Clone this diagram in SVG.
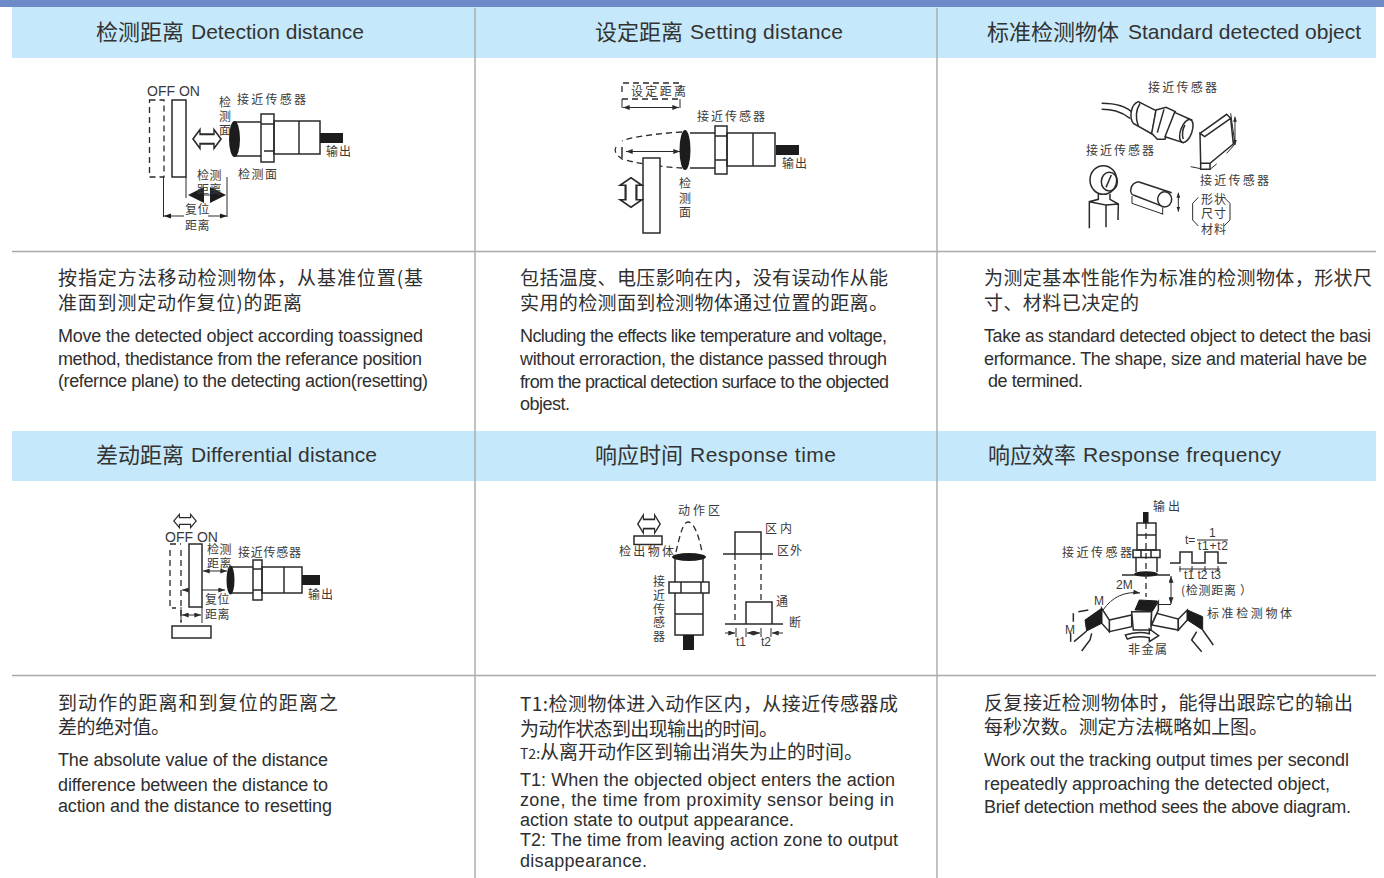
<svg xmlns="http://www.w3.org/2000/svg" width="1384" height="878" viewBox="0 0 1384 878">
<style>
text{font-family:"Liberation Sans","Noto Sans CJK SC",sans-serif;fill:#2f2f2f}
.h{font-size:22px;font-family:"Noto Sans CJK SC",sans-serif;fill:#333}
.he{font-size:21px;fill:#333}
.c{font-size:19px;font-family:"Noto Sans CJK SC",sans-serif}
.e{font-size:18px}
.l{font-size:12px;font-family:"Noto Sans CJK SC",sans-serif;fill:#3a3a3a}
.o{font-size:14px;fill:#3a3a3a}
.n{font-size:12px;fill:#3a3a3a}
.s{fill:none;stroke:#2a2a2a;stroke-width:1.5}
.w{fill:#fff;stroke:#2a2a2a;stroke-width:1.5}
.d{fill:none;stroke:#2a2a2a;stroke-width:1.3;stroke-dasharray:6 4}
.k{fill:#1c1c1c;stroke:none}
.t{fill:none;stroke:#2a2a2a;stroke-width:1}
.sep{stroke:#a9a9a9;stroke-width:1.4;fill:none}
.z{fill:none;stroke:#2a2a2a;stroke-width:4.5}
.z2{fill:none;stroke:#2a2a2a;stroke-width:3}
.zw{fill:#fff;stroke:#2a2a2a;stroke-width:4.5}
.zk{fill:#1c1c1c;stroke:#1c1c1c;stroke-width:3}
</style>
<defs>
<marker id="a" viewBox="0 0 8 6" refX="8" refY="3" markerWidth="7" markerHeight="5" orient="auto-start-reverse"><path d="M0 0L8 3L0 6Z" fill="#2a2a2a"/></marker>
<marker id="b" viewBox="0 0 8 6" refX="8" refY="3" markerWidth="5" markerHeight="4" orient="auto-start-reverse"><path d="M0 0L8 3L0 6Z" fill="#2a2a2a"/></marker>
<path id="dbl" d="M-14 0L-7 -7V-3.500H7V-7L14 0L7 7V3.500H-7V7Z" fill="#fff" stroke="#2a2a2a" stroke-width="1.400"/>
</defs>
<rect width="1384" height="878" fill="#fff"/>
<rect width="1384" height="7" fill="#6e8bc8"/>
<rect x="12" y="7" width="1364" height="51" fill="#c5e9fa"/>
<rect x="12" y="431" width="1364" height="50" fill="#c5e9fa"/>
<g id="grid">
<path class="sep" d="M475 8V878M937 8V878M12 251.500H1376M12 675.500H1376"/>
</g>

<g id="headers">
<text class="h" x="96" y="40">检测距离</text><text class="he" x="191" y="39" textLength="173">Detection distance</text>
<text class="h" x="595" y="40">设定距离</text><text class="he" x="690" y="39" textLength="153">Setting distance</text>
<text class="h" x="987" y="40">标准检测物体</text><text class="he" x="1128" y="39" textLength="233">Standard detected object</text>
<text class="h" x="96" y="463">差动距离</text><text class="he" x="191" y="462" textLength="186">Differential distance</text>
<text class="h" x="595" y="463">响应时间</text><text class="he" x="690" y="462" textLength="146">Response time</text>
<text class="h" x="988" y="463">响应效率</text><text class="he" x="1083" y="462" textLength="198">Response frequency</text>
</g>

<g id="descriptions">
<text class="c" x="58" y="285" textLength="365">按指定方法移动检测物体，从基准位置(基</text>
<text class="c" x="58" y="310" textLength="244">准面到测定动作复位)的距离</text>
<text class="e" x="58" y="342" textLength="365">Move the detected object according toassigned</text>
<text class="e" x="58" y="365" textLength="364">method, thedistance from the referance position</text>
<text class="e" x="58" y="387" textLength="370">(refernce plane) to the detecting action(resetting)</text>

<text class="c" x="520" y="285" textLength="368">包括温度、电压影响在内，没有误动作从能</text>
<text class="c" x="520" y="310" textLength="368">实用的检测面到检测物体通过位置的距离。</text>
<text class="e" x="520" y="342" textLength="367">Ncluding the effects like temperature and voltage,</text>
<text class="e" x="520" y="365" textLength="367">without erroraction, the distance passed through</text>
<text class="e" x="520" y="388" textLength="369">from the practical detection surface to the objected</text>
<text class="e" x="520" y="410" textLength="50">objest.</text>

<text class="c" x="984" y="285" textLength="388">为测定基本性能作为标准的检测物体，形状尺</text>
<text class="c" x="984" y="310" textLength="155">寸、材料已决定的</text>
<text class="e" x="984" y="342" textLength="387">Take as standard detected object to detect the basi</text>
<text class="e" x="984" y="365" textLength="383">erformance. The shape, size and material have be</text>
<text class="e" x="988" y="387" textLength="95">de termined.</text>

<text class="c" x="58" y="710" textLength="280">到动作的距离和到复位的距离之</text>
<text class="c" x="58" y="734" textLength="112">差的绝对值。</text>
<text class="e" x="58" y="766" textLength="270">The absolute value of the distance</text>
<text class="e" x="58" y="791" textLength="270">difference between the distance to</text>
<text class="e" x="58" y="812" textLength="274">action and the distance to resetting</text>

<text class="c" x="520" y="711" textLength="378">T1:检测物体进入动作区内，从接近传感器成</text>
<text class="c" x="520" y="736" textLength="258">为动作状态到出现输出的时间。</text>
<text class="c" x="520" y="759" textLength="343"><tspan font-size="14">T2:</tspan>从离开动作区到输出消失为止的时间。</text>
<text class="e" x="520" y="786" textLength="375">T1: When the objected object enters the action</text>
<text class="e" x="520" y="806" textLength="374">zone, the time from proximity sensor being in</text>
<text class="e" x="520" y="826" textLength="274">action state to output appearance.</text>
<text class="e" x="520" y="846" textLength="378">T2: The time from leaving action zone to output</text>
<text class="e" x="520" y="867" textLength="127">disappearance.</text>

<text class="c" x="984" y="710" textLength="369">反复接近检测物体时，能得出跟踪它的输出</text>
<text class="c" x="984" y="734" textLength="284">每秒次数。测定方法概略如上图。</text>
<text class="e" x="984" y="766" textLength="365">Work out the tracking output times per secondl</text>
<text class="e" x="984" y="790" textLength="346">repeatedly approaching the detected object,</text>
<text class="e" x="984" y="813" textLength="367">Brief detection method sees the above diagram.</text>
</g>

<g id="fig-detection">
<rect class="d" x="149.500" y="100" width="14.500" height="77"/>
<rect class="s" x="172" y="100" width="14" height="77"/>
<use href="#dbl" transform="translate(207,139) scale(1,1.350)"/>
<path class="s" d="M234 122H261M234 156H261"/>
<ellipse class="k" cx="234.500" cy="139" rx="5.500" ry="18"/>
<rect class="s" x="261" y="114" width="13" height="48"/>
<path class="s" d="M261 124H274M264 151H274"/>
<rect class="s" x="274" y="121" width="46" height="33"/>
<path class="s" d="M299 121V154" stroke-width="1.800"/>
<rect class="k" x="320" y="133" width="23" height="10"/>
<path class="t" d="M186 177V198M227 177V217M163.500 177V217"/>
<path class="k" d="M188 195L204 187V203ZM226 195L210 187V203Z"/>
<path class="t" d="M204 195H210M164 216H184M208 216H227"/>
<path class="k" d="M164 216L171 213.500V218.500ZM227 216L220 213.500V218.500Z"/>
<text class="o" x="147" y="96">OFF ON</text>
<text class="l"><tspan x="219" y="107">检</tspan><tspan x="219" y="121">测</tspan><tspan x="219" y="135">面</tspan></text>
<text class="l" x="237" y="104" textLength="69">接近传感器</text>
<text class="l" x="326" y="156" textLength="25">输出</text>
<text class="l" letter-spacing=".5"><tspan x="197" y="180">检测</tspan><tspan x="197" y="194">距离</tspan></text>
<text class="l" x="238" y="179" textLength="39">检测面</text>
<text class="l" letter-spacing=".5"><tspan x="185" y="214">复位</tspan><tspan x="185" y="230">距离</tspan></text>
</g>

<g id="fig-setting">
<path class="d" d="M622 92V83H681V88M622 99H681"/>
<path class="t" d="M622 99V108M680 99V108"/>
<path class="t" d="M623 107.500H679" marker-start="url(#a)" marker-end="url(#a)"/>
<text class="l" x="631" y="96" textLength="55">设定距离</text>
<path class="d" d="M682 132C650 134 628 138 622 141M616 147C613 152 618 156 622 159C635 163 660 167 682 168"/>
<path class="s" d="M622 147V158"/>
<path class="t" d="M626 151.500H680" marker-start="url(#a)" marker-end="url(#a)"/>
<path class="s" d="M690 133H715M690 168H715"/>
<ellipse class="k" cx="685" cy="150" rx="5.500" ry="20"/>
<rect class="s" x="715" y="126" width="12" height="48"/>
<path class="s" d="M715 136H727M715 160H727"/>
<rect class="s" x="727" y="133" width="48" height="33"/>
<path class="s" d="M753 133V166" stroke-width="1.800"/>
<rect class="k" x="776" y="145" width="23" height="10"/>
<rect class="w" x="643" y="158" width="17" height="75"/>
<use href="#dbl" transform="translate(631,192.500) rotate(90) scale(1.050,1.550)"/>
<text class="l" x="697" y="121" textLength="68">接近传感器</text>
<text class="l" x="782" y="168" textLength="25">输出</text>
<text class="l"><tspan x="679" y="188">检</tspan><tspan x="679" y="203">测</tspan><tspan x="679" y="217">面</tspan></text>
</g>

<g id="fig-standard">
<g transform="translate(1070,70) scale(.33333)">
<path class="z" d="M95 100C130 100 165 105 190 130M95 118C125 118 150 122 180 145"/>
<path class="zw" d="M205 95L258 122L246 192L190 160C178 145 180 105 205 95Z"/>
<path class="z" d="M210 100C198 120 196 145 205 168"/>
<path class="zw" d="M258 120L288 112L316 125L285 208L262 208L245 190Z"/>
<path class="z" d="M282 118L262 188"/>
<path class="zw" d="M314 127L365 150L340 218L285 200Z"/>
<ellipse class="zw" cx="349" cy="183" rx="17" ry="36" transform="rotate(20 349 183)"/>
<path class="z" d="M345 165C338 175 335 195 340 207"/>
<path class="zw" d="M390 190L470 133L482 145L404 200ZM404 200L482 145L490 222L420 280H392L390 190Z"/>
<path class="z" d="M392 280V298H420V280"/>
<path class="z2" d="M362 290L392 296M440 282L420 298M482 130L495 222L470 250"/>
<path class="z2" d="M495 140V225" marker-start="url(#b)" marker-end="url(#b)"/>
<ellipse class="z" cx="100" cy="330" rx="40" ry="43"/>
<ellipse class="z" cx="118" cy="335" rx="24" ry="28"/>
<path class="z" d="M124 315L108 352M85 372V388L58 395V475M120 372V388L145 402L144 450M108 472V405L58 395M108 405L145 402"/>
<path class="z" d="M205 335L305 368M190 375L280 410"/>
<path class="z" d="M205 335C178 340 178 372 190 375"/>
<ellipse class="zw" cx="284" cy="388" rx="21" ry="23"/>
<path class="z2" d="M186 378V400L278 432M278 412V434"/>
<path class="z2" d="M325 368V425" marker-start="url(#b)" marker-end="url(#b)"/>
<path class="z2" d="M385 382L368 400V450L385 468M462 382L480 400V450L462 468"/>
</g>
<text class="l" x="1148" y="92" textLength="69">接近传感器</text>
<text class="l" x="1086" y="155" textLength="68">接近传感器</text>
<text class="l" x="1200" y="185" textLength="69">接近传感器</text>
<text class="l" letter-spacing="1"><tspan x="1201" y="204">形状</tspan><tspan x="1201" y="218">尺寸</tspan><tspan x="1201" y="234">材料</tspan></text>
</g>

<g id="fig-differential">
<use href="#dbl" transform="translate(185,521) scale(.8,.95)"/>
<path class="d" d="M170 544H181M170 550V608H176M181 550V622"/>
<rect class="s" x="189" y="544" width="13" height="63"/>
<path class="t" d="M202 607V623M181 607V623"/>
<path class="t" d="M203 571H227" marker-start="url(#a)" marker-end="url(#a)"/>
<path class="t" d="M182 590H189" marker-start="url(#a)"/>
<path class="t" d="M202 590H225" marker-end="url(#a)"/>
<path class="t" d="M182 615H201" marker-start="url(#a)" marker-end="url(#a)"/>
<path class="s" d="M232 567H253M232 593H253"/>
<ellipse class="k" cx="230.500" cy="580" rx="4" ry="14.500"/>
<rect class="s" x="253" y="560" width="9" height="40"/>
<path class="s" d="M253 569H262M253 590H262"/>
<rect class="s" x="262" y="567" width="40" height="26"/>
<path class="s" d="M284 567V593" stroke-width="1.800"/>
<rect class="k" x="302" y="575" width="18" height="10"/>
<rect class="s" x="172" y="626" width="39" height="12"/>
<text class="o" x="165" y="542">OFF ON</text>
<text class="l" letter-spacing=".5"><tspan x="207" y="554">检测</tspan><tspan x="207" y="568">距离</tspan></text>
<text class="l" letter-spacing=".5"><tspan x="205" y="604">复位</tspan><tspan x="205" y="619">距离</tspan></text>
<text class="l" x="238" y="557" textLength="63">接近传感器</text>
<text class="l" x="308" y="599" textLength="25">输出</text>
</g>

<g id="fig-response">
<use href="#dbl" transform="translate(649,524) scale(.8,1.300)"/>
<rect class="s" x="634" y="536" width="28" height="8.500"/>
<path class="d" d="M676 552C680 535 683 522 688 522C694 522 699 536 702 552"/>
<path class="s" d="M675 558V582M703 558V582M675 593V635H703V593M675 614H703"/>
<ellipse class="k" cx="689" cy="557" rx="17" ry="4"/>
<rect class="s" x="669" y="582" width="40" height="11"/>
<path class="s" d="M681 582V593M701 582V593"/>
<rect class="k" x="683" y="635" width="11" height="15"/>
<path class="s" d="M723 554H773M735 554V532H761V554M725 624H783M746 624V602H772V624"/>
<path class="d" d="M735 554V623M761 554V600"/>
<path class="t" d="M736 628V637M746 628V637M761 628V637M771 628V637"/>
<path class="t" d="M725 633H735" marker-end="url(#a)"/>
<path class="t" d="M747 633H760" marker-start="url(#a)" marker-end="url(#a)"/>
<path class="t" d="M783 633H772" marker-end="url(#a)"/>
<text class="l" x="678" y="515" textLength="42">动作区</text>
<text class="l" x="619" y="556" textLength="55">检出物体</text>
<text class="l"><tspan x="653" y="586">接</tspan><tspan x="653" y="600">近</tspan><tspan x="653" y="614">传</tspan><tspan x="653" y="627">感</tspan><tspan x="653" y="641">器</tspan></text>
<text class="l" x="765" y="533" textLength="27">区内</text>
<text class="l" x="777" y="555" textLength="25">区外</text>
<text class="l" x="776" y="606">通</text>
<text class="l" x="789" y="627">断</text>
<text class="n" x="736" y="646">t1</text>
<text class="n" x="761" y="646">t2</text>
</g>

<g id="fig-frequency">
<rect class="k" x="1143" y="512" width="5.500" height="11"/>
<rect class="s" x="1137" y="523" width="19" height="27"/>
<path class="s" d="M1137 535H1156M1136 557V572M1157 557V572"/>
<rect class="s" x="1133" y="550" width="27" height="7.500"/>
<path class="s" d="M1141 550V557M1151 550V557"/>
<path class="s" d="M1122 575H1170"/>
<ellipse class="k" cx="1146" cy="574" rx="12" ry="2.800"/>
<path class="d" d="M1146 523V597" stroke-dasharray="5 3" stroke-width="1"/>
<path class="t" d="M1171 576V604" marker-start="url(#a)" marker-end="url(#a)"/>
<path class="t" d="M1157 604.500H1171"/>
<path class="t" d="M1103 610C1112 597 1125 591 1140 593" marker-end="url(#a)" stroke-width="1.400"/>
<path class="s" d="M1170 563H1180V552H1192V563H1205V552H1218V563H1227"/>
<path class="t" d="M1197 540H1228"/>
<path class="t" d="M1179 569H1220M1180 566V572M1192 566V572M1205 566V572M1218 566V572" stroke-width="1.200"/>
<g transform="translate(1050,495) scale(.33333)">
<path class="zw" d="M178 375L245 360V395L178 410ZM305 390L320 355L385 372V405Z"/>
<path class="zw" d="M385 372L412 345V375L385 405Z"/>
<path class="zk" d="M412 345L458 365V405L412 375Z"/>
<path class="zw" d="M155 340L178 375V410L155 385Z"/>
<path class="zk" d="M105 375L155 340V385L110 408Z"/>
<path class="zw" d="M245 350H305L303 405H250Z"/>
<path class="zw" d="M305 350L325 320V345L303 392Z"/>
<path class="zk" d="M255 345L268 315L322 318L308 347Z"/>
<path class="z" d="M458 405L490 450M440 410L425 435L455 470M110 408L72 440M125 415L120 435L95 468M62 440V415M70 355L70 380M85 350L115 345"/>
<path class="zw" d="M226 420C255 410 275 410 298 416V402L326 422L298 440V428C275 424 250 425 232 432Z"/>
</g>
<text class="l" x="1153" y="511" textLength="27">输出</text>
<text class="l" x="1062" y="557" textLength="70">接近传感器</text>
<text class="l" x="1207" y="618" textLength="85">标准检测物体</text>
<text class="l" x="1181" y="595" textLength="71">(检测距离 ）</text>
<text class="l" x="1128" y="654" textLength="39">非金属</text>
<text class="n" x="1116" y="589">2M</text>
<text class="n" x="1094" y="605">M</text>
<text class="n" x="1065" y="634">M</text>
<text class="n" x="1185" y="544">t=</text>
<text class="n" x="1209" y="537">1</text>
<text class="n" x="1198" y="550" textLength="30">t1+t2</text>
<text class="n" x="1184" y="579" textLength="37">t1 t2 t3</text>
</g>
</svg>
